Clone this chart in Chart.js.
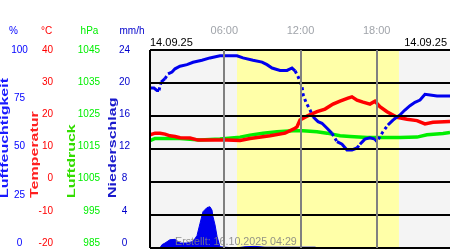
<!DOCTYPE html>
<html>
<head>
<meta charset="utf-8">
<script src="https://cdn.jsdelivr.net/npm/chart.js@4.4.1/dist/chart.umd.min.js"></script>
<style>
    body { margin: 0; background: #ffffff; }
    canvas { display: block; }
</style>
</head>
<body>
<canvas id="weatherChart" width="450" height="250"></canvas>
<script>
// time in hours of 14.09.25
const humTimes = [0.15, 0.46, 0.70, 0.86, 1.02, 1.33, 1.57, 1.88, 2.12, 2.51, 3.06, 3.54, 4.24, 4.87, 5.66, 6.45, 7.00, 7.47, 8.26, 8.97,
    9.36, 9.76, 10.39, 10.94, 11.33, 11.57, 11.80, 12.12, 12.20, 12.43, 12.75, 12.98, 13.38, 13.69, 14.09, 14.48, 14.87, 15.27, 15.66, 16.05,
    16.45, 16.68, 17.07, 17.47, 17.86, 18.02, 18.25, 18.49, 18.88, 19.28, 19.83, 20.22, 20.62, 21.01, 21.41, 21.80, 22.20, 22.75, 23.22, 23.77];
const humValues = [80.8, 80.8, 79.6, 79.6, 83.8, 85.5, 87.9, 88.9, 90.5, 91.8, 92.6, 93.8, 94.8, 96.0, 97.1, 97.1, 97.1, 96.0, 94.8, 93.9,
    92.6, 90.9, 89.7, 89.7, 90.9, 89.5, 86.7, 81.5, 77.6, 73.6, 69.7, 66.3, 63.8, 63.0, 60.5, 57.9, 53.7, 52.4, 49.5, 49.5,
    50.5, 52.4, 55.0, 55.6, 55.0, 53.7, 56.2, 58.7, 62.1, 64.6, 67.2, 69.7, 71.9, 73.6, 74.7, 77.6, 77.3, 76.8, 76.8, 76.8];

const tempTimes = [0.15, 0.55, 0.94, 1.33, 1.72, 2.12, 2.51, 3.30, 3.93, 4.87, 6.21, 7.24, 8.02, 9.60, 10.78, 11.57, 11.72, 11.96,
    12.59, 13.30, 13.93, 14.56, 15.11, 15.74, 16.05, 16.45, 16.92, 17.47, 17.86, 18.25, 18.81, 19.60, 20.39, 21.17, 21.80, 22.43, 23.77];
const tempValues = [14.3, 14.8, 14.8, 14.5, 14.0, 13.8, 13.4, 13.3, 12.7, 12.7, 12.7, 12.6, 13.2, 14.0, 14.8, 16.3, 16.7, 18.8,
    20.1, 21.3, 22.1, 23.6, 24.5, 25.4, 25.8, 24.8, 24.2, 23.6, 24.5, 22.8, 21.3, 19.6, 19.0, 18.6, 17.6, 18.1, 18.3];

const presTimes = [0.15, 0.55, 2.51, 4.09, 5.66, 7.24, 8.02, 9.05, 10.15, 11.41, 12.20, 13.30, 14.09, 15.11, 15.90, 17.24, 18.49, 19.83,
    21.17, 21.96, 23.22, 23.77];
const presValues = [1017.5, 1018.2, 1018.2, 1017.7, 1018.0, 1018.6, 1019.2, 1019.8, 1020.2, 1020.5, 1020.5, 1020.2, 1019.8, 1019.0,
    1018.8, 1018.5, 1018.5, 1018.5, 1018.6, 1019.3, 1019.7, 1020.0];

const rainTimes = [0.93, 1.09, 1.33, 1.72, 2.12, 2.51, 3.06, 3.54, 3.85, 4.09, 4.32, 4.64, 4.87, 5.03, 5.11, 5.27, 5.43, 5.66, 6.06,
    6.84, 7.63, 8.42, 9.20, 10.39, 11.33, 12.12, 13.14, 13.38, 23.77];
const rainValues = [0, 0.4, 0.6, 1.0, 1.05, 0.6, 0.6, 0.8, 1.5, 3.0, 4.4, 4.9, 5.0, 4.6, 3.8, 2.8, 1.4, 0.15, 0.1,
    0, 0.15, 0.2, 0.1, 0.1, 0.1, 0.1, 0.1, 0, 0];

const humTicks = [0, 25, 50, 75, 100];
const tempTicks = [-20, -10, 0, 10, 20, 30, 40];
const presTicks = [985, 995, 1005, 1015, 1025, 1035, 1045];
const rainTicks = [0, 4, 8, 12, 16, 20, 24];
const hourTicks = [6, 12, 18];
const hourLabels = ['06:00', '12:00', '18:00'];
const sunrise = 7.0;
const sunset = 19.75;

const FONT = '"Liberation Sans", Arial, sans-serif';

function toPoints(times, values) {
    return times.map((t, i) => ({ x: t, y: values[i] }));
}

function drawVertical(ctx, text, x, yBottom, color) {
    ctx.save();
    ctx.translate(x, yBottom);
    ctx.rotate(-Math.PI / 2);
    ctx.scale(1.6, 1);
    ctx.fillStyle = color;
    ctx.font = 'bold 10px ' + FONT;
    ctx.textAlign = 'left';
    ctx.textBaseline = 'alphabetic';
    ctx.fillText(text, 0, 0);
    ctx.restore();
}

// steep parts of the humidity curve are drawn as loose dots, like the original
function steepDash(seg) {
    const dx = Math.abs(seg.p1.x - seg.p0.x);
    const dy = Math.abs(seg.p1.y - seg.p0.y);
    return dy > dx * 1.2 ? [3, 3] : undefined;
}

const chartDecor = {
    id: 'chartDecor',
    beforeDatasetsDraw(chart) {
        const { ctx, chartArea: a, scales } = chart;
        ctx.save();
        ctx.fillStyle = '#f4f4f4';
        ctx.fillRect(a.left, a.top, a.right - a.left, a.bottom - a.top);
        const x1 = scales.x.getPixelForValue(sunrise);
        const x2 = scales.x.getPixelForValue(sunset);
        ctx.fillStyle = '#ffffa8';
        ctx.fillRect(x1, a.top, x2 - x1, a.bottom - a.top);
        ctx.restore();
    },
    afterDatasetsDraw(chart) {
        const { ctx, chartArea: a, scales } = chart;
        ctx.save();
        // horizontal grid
        ctx.strokeStyle = '#000000';
        ctx.lineWidth = 2;
        rainTicks.forEach(v => {
            const y = Math.round(scales.yRain.getPixelForValue(v));
            ctx.beginPath();
            ctx.moveTo(a.left, y);
            ctx.lineTo(a.right, y);
            ctx.stroke();
        });
        ctx.beginPath();
        ctx.moveTo(a.left, a.top);
        ctx.lineTo(a.left, a.bottom);
        ctx.stroke();
        // hour lines
        ctx.strokeStyle = '#808080';
        hourTicks.forEach(h => {
            const x = Math.round(scales.x.getPixelForValue(h));
            ctx.beginPath();
            ctx.moveTo(x, a.top);
            ctx.lineTo(x, a.bottom);
            ctx.stroke();
        });
        ctx.restore();
    },
    afterDraw(chart) {
        const { ctx, chartArea: a, scales } = chart;
        const labelY = (scale, v) => a.top + (scale.getPixelForValue(v) - a.top) * 0.975;
        ctx.save();
        ctx.textBaseline = 'middle';
        ctx.font = '10px ' + FONT;

        // units
        ctx.textAlign = 'center';
        ctx.fillStyle = '#0000ff';
        ctx.fillText('%', 13.5, 31);
        ctx.fillStyle = '#ff0000';
        ctx.fillText('°C', 46.5, 31);
        ctx.fillStyle = '#00ee00';
        ctx.fillText('hPa', 89.5, 31);
        ctx.fillStyle = '#0000cc';
        ctx.fillText('mm/h', 132, 31);

        // tick labels
        ctx.fillStyle = '#0000ff';
        humTicks.forEach(v => ctx.fillText(String(v), 19.5, labelY(scales.yHum, v)));
        ctx.textAlign = 'right';
        ctx.fillStyle = '#ff0000';
        tempTicks.forEach(v => ctx.fillText(String(v), 53, labelY(scales.yTemp, v)));
        ctx.fillStyle = '#00ee00';
        presTicks.forEach(v => ctx.fillText(String(v), 100, labelY(scales.yPres, v)));
        ctx.textAlign = 'center';
        ctx.fillStyle = '#0000cc';
        rainTicks.forEach(v => ctx.fillText(String(v), 124.5, labelY(scales.yRain, v)));

        // axis titles
        drawVertical(ctx, 'Luftfeuchtigkeit', 8, 198, '#1a1aff');
        drawVertical(ctx, 'Temperatur', 38, 198, '#ff2020');
        drawVertical(ctx, 'Luftdruck', 75, 198, '#33dd00');
        drawVertical(ctx, 'Niederschlag', 116, 198, '#1a1acc');

        // hours and dates
        ctx.font = '11px ' + FONT;
        ctx.fillStyle = '#a0a4aa';
        ctx.textAlign = 'center';
        hourTicks.forEach((h, i) => ctx.fillText(hourLabels[i], scales.x.getPixelForValue(h), 31));
        ctx.fillStyle = '#000000';
        ctx.textAlign = 'left';
        ctx.fillText('14.09.25', 150, 43);
        ctx.textAlign = 'right';
        ctx.fillText('14.09.25', 447, 43);

        ctx.font = '10.7px ' + FONT;
        ctx.fillStyle = 'rgba(128,128,128,0.85)';
        ctx.textAlign = 'left';
        ctx.fillText('Erstellt: 16.10.2025 04:29', 175, 242);
        ctx.restore();
    }
};

const ctx = document.getElementById('weatherChart').getContext('2d');
const weatherChart = new Chart(ctx, {
    type: 'line',
    data: {
        datasets: [
            {
                label: 'Luftfeuchtigkeit',
                data: toPoints(humTimes, humValues),
                yAxisID: 'yHum',
                borderColor: '#0000ee',
                borderWidth: 3,
                pointRadius: 0,
                segment: { borderDash: steepDash },
                order: 1
            },
            {
                label: 'Temperatur',
                data: toPoints(tempTimes, tempValues),
                yAxisID: 'yTemp',
                borderColor: '#ff0000',
                borderWidth: 3.5,
                pointRadius: 0,
                order: 2
            },
            {
                label: 'Luftdruck',
                data: toPoints(presTimes, presValues),
                yAxisID: 'yPres',
                borderColor: '#00ee00',
                borderWidth: 3.5,
                pointRadius: 0,
                order: 3
            },
            {
                label: 'Niederschlag',
                data: toPoints(rainTimes, rainValues),
                yAxisID: 'yRain',
                borderColor: '#0000ee',
                backgroundColor: '#0000ee',
                borderWidth: 1,
                pointRadius: 0,
                fill: 'origin',
                order: 4
            }
        ]
    },
    options: {
        responsive: false,
        animation: false,
        devicePixelRatio: 1,
        layout: { padding: { left: 150, top: 50, right: 0, bottom: 2 } },
        plugins: {
            legend: { display: false },
            tooltip: { enabled: false }
        },
        scales: {
            x: { type: 'linear', min: 0.15, max: 23.77, display: false },
            yHum: { type: 'linear', min: 0, max: 100, display: false },
            yTemp: { type: 'linear', min: -20, max: 40, display: false },
            yPres: { type: 'linear', min: 985, max: 1045, display: false },
            yRain: { type: 'linear', min: 0, max: 24, display: false }
        }
    },
    plugins: [chartDecor]
});
</script>
</body>
</html>
